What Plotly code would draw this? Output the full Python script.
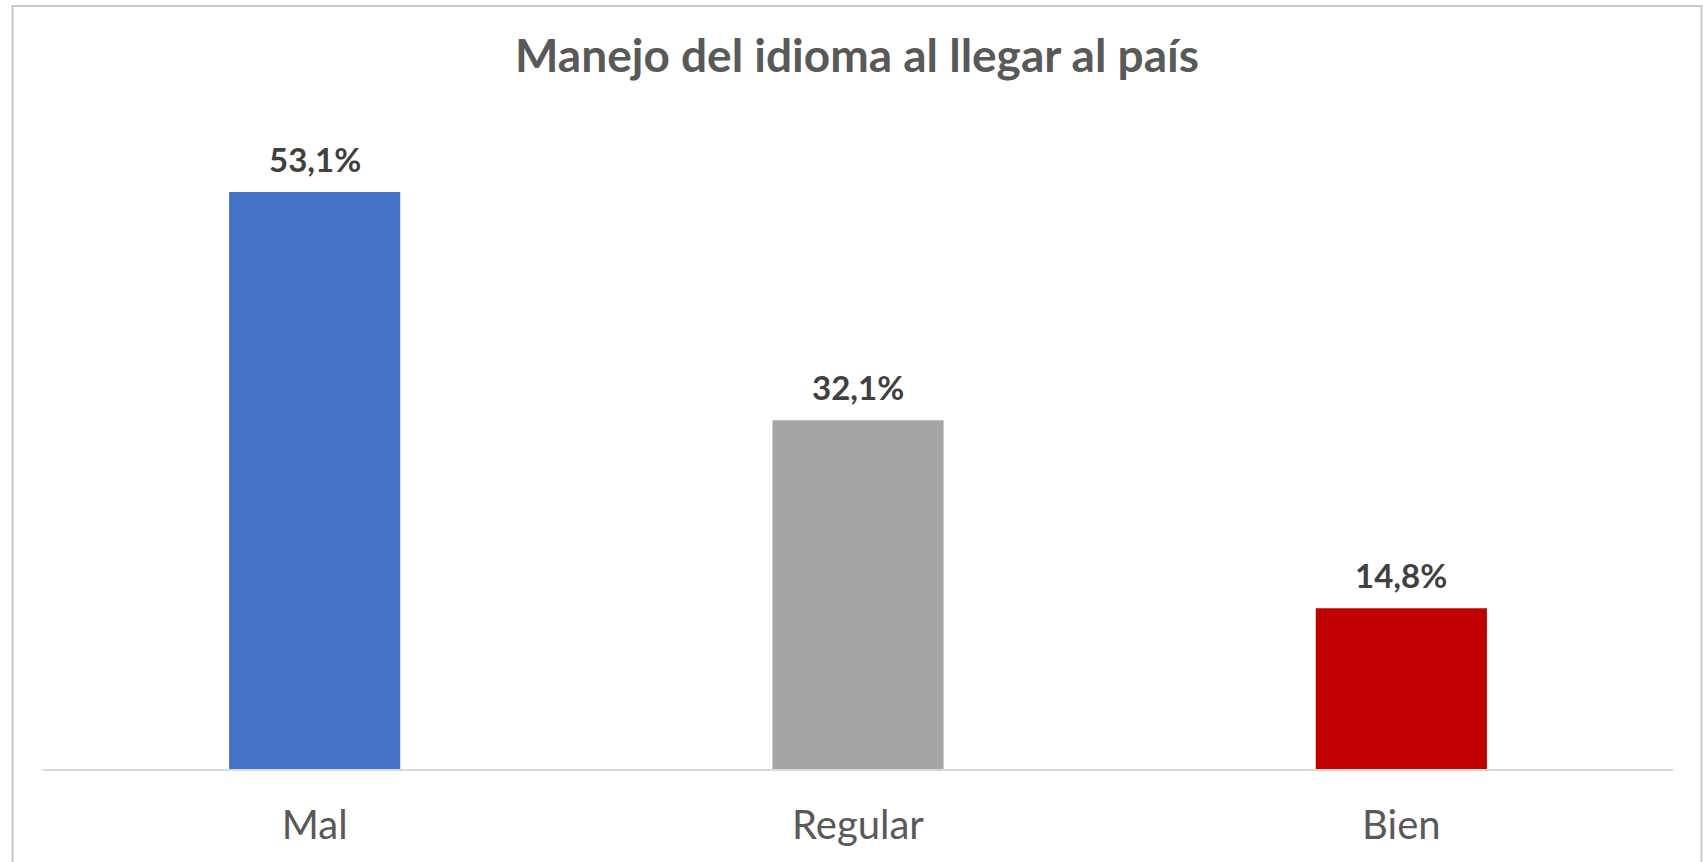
import plotly.graph_objects as go

categories = ["Mal", "Regular", "Bien"]
values = [53.1, 32.1, 14.8]
colors = ["#4472C4", "#A5A5A5", "#C00000"]
title_text = "Manejo del idioma al llegar al país"

W, H = 1703, 862
L, R, T, B = 43, 30, 117, 93
pw, ph = W - L - R, H - T - B

fig = go.Figure()
fig.add_trace(go.Bar(
    x=categories, y=values, marker=dict(color=colors, line=dict(width=0)),
    hoverinfo="skip", showlegend=False,
))

for c, v in zip(categories, values):
    fig.add_annotation(
        x=c, y=v, xref="x", yref="y", yanchor="bottom", yshift=11,
        text="<b>" + f"{v:.1f}".replace(".", ",") + "%</b>", showarrow=False,
        font=dict(family="Lato", size=33, color="#404040"),
    )

fig.update_layout(
    width=W, height=H,
    paper_bgcolor="white", plot_bgcolor="white",
    margin=dict(l=L, r=R, t=T, b=B, autoexpand=False),
    bargap=0.685,
    separators=",.",
    title=dict(text="<b>" + title_text + "</b>", x=857/W, xanchor="center",
               y=1 - 56/H, yanchor="middle",
               font=dict(family="Lato", size=46, color="#595959")),
    xaxis=dict(showgrid=False, showline=True, linecolor="#D9D9D9", linewidth=2,
               ticks="outside", ticklen=20, tickcolor="rgba(0,0,0,0)", automargin=False,
               tickfont=dict(family="Lato", size=40, color="#595959"), fixedrange=True),
    yaxis=dict(range=[0, 60], visible=False, showgrid=False, fixedrange=True, automargin=False),
    shapes=[dict(type="rect", xref="paper", yref="paper",
                 x0=(12.5 - L)/pw, x1=(1701.5 - L)/pw,
                 y0=(H - B - 880)/ph, y1=(H - B - 6)/ph,
                 line=dict(color="#C8C8C8", width=2), layer="above")],
)

fig.write_html("out.html", config={"displayModeBar": False},
               post_script="document.body.style.margin='0';document.body.style.overflow='hidden';")
